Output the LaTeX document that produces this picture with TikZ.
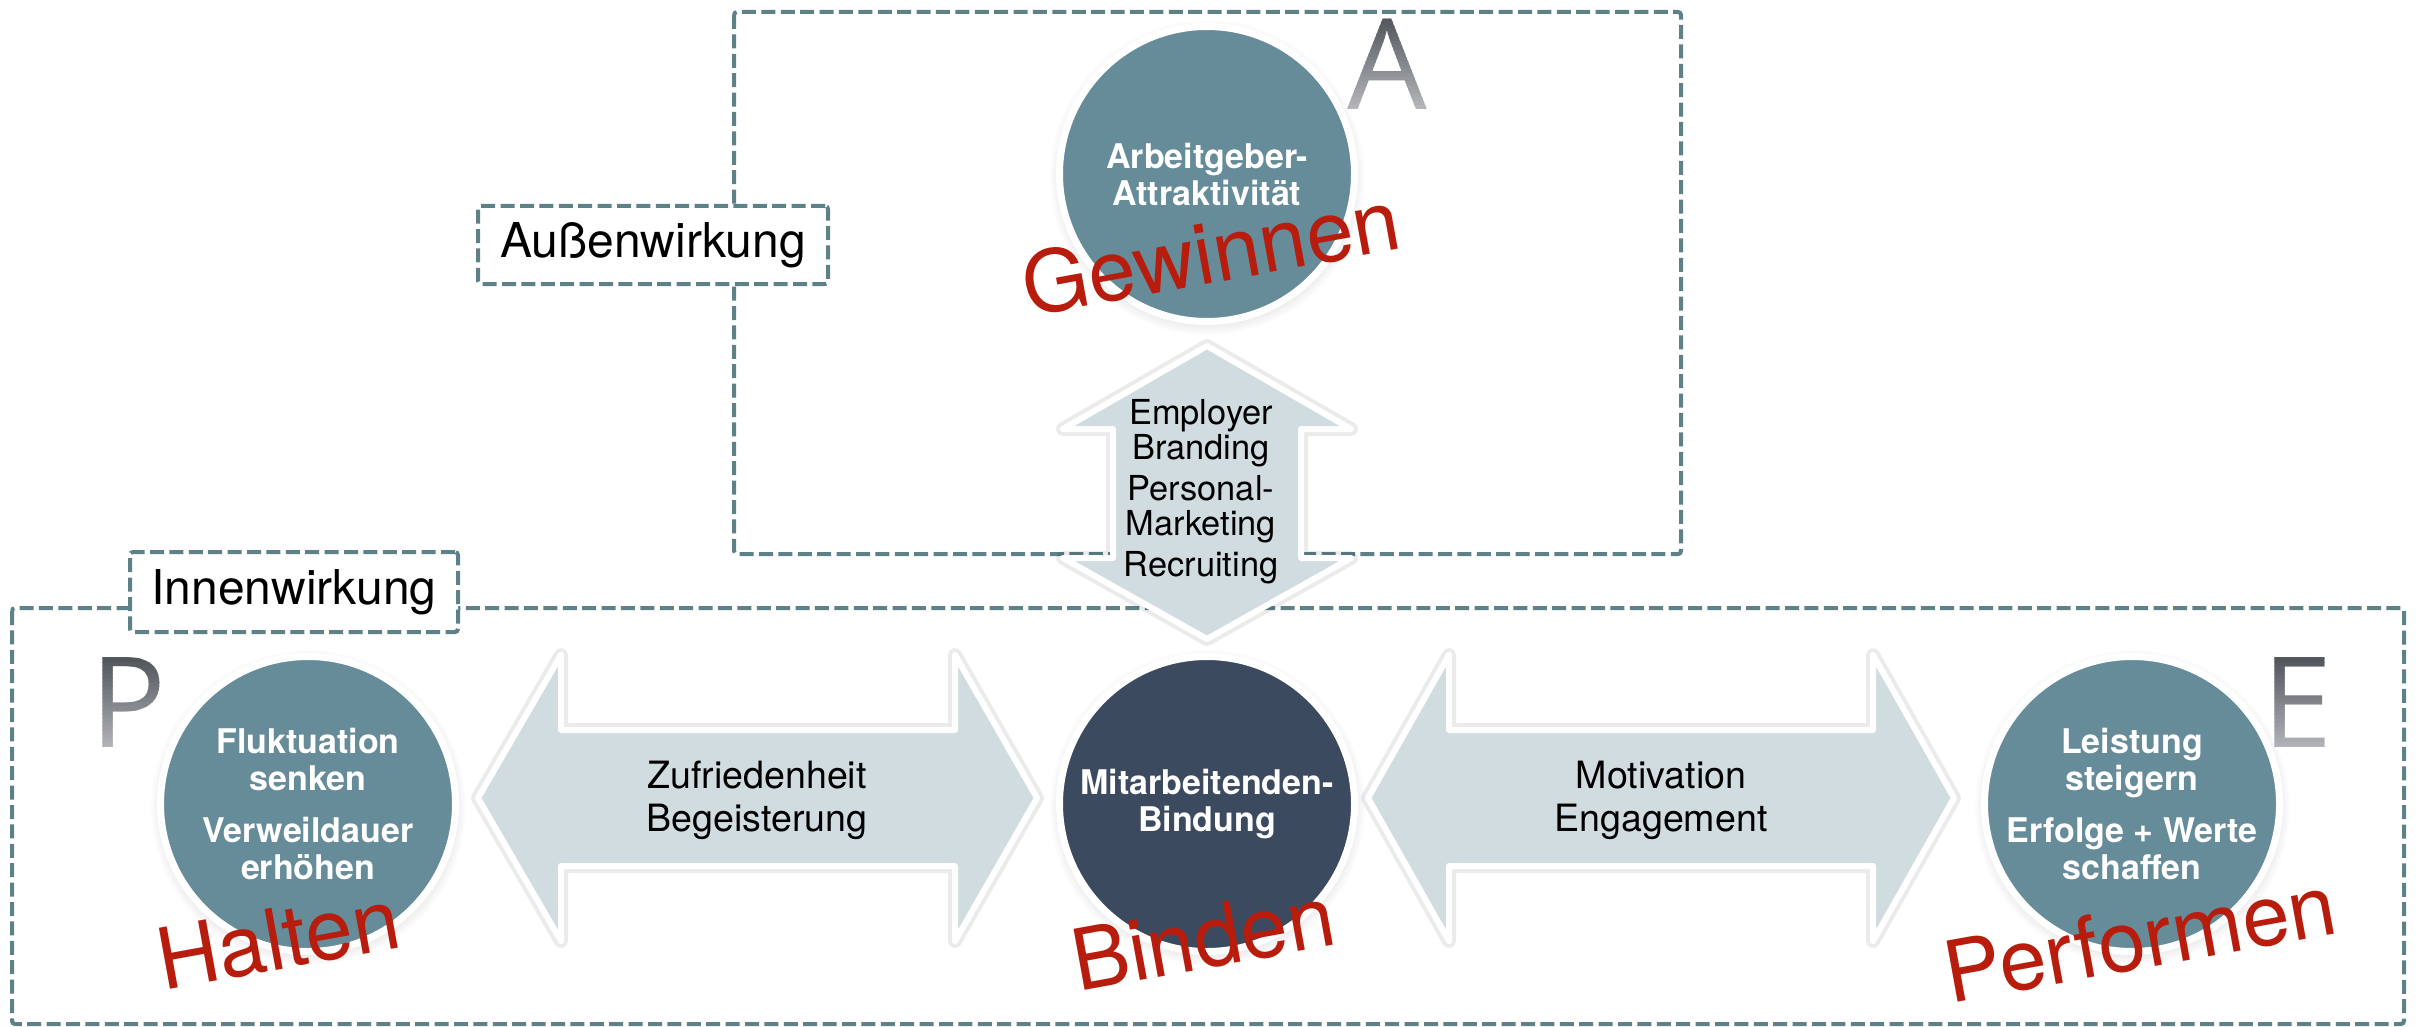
\documentclass[tikz,border=0pt]{standalone}
\usepackage{fontspec}
\setmainfont{TeX Gyre Heros}
\newfontfamily\letterfont{Open Sans}
\usetikzlibrary{shadows}
\definecolor{dashcol}{HTML}{5E8188}
\definecolor{circteal}{HTML}{668C99}
\definecolor{circdark}{HTML}{3B4A5E}
\definecolor{arrowfill}{HTML}{D0DCE0}
\definecolor{redword}{HTML}{B71C0C}
\definecolor{lettertop}{HTML}{4E5359}
\definecolor{letterbot}{HTML}{BCBDC1}
\tikzset{
  dashbox/.style={draw=dashcol, line width=2pt, dash pattern=on 7pt off 2.7pt, rounded corners=1.5pt},
  labelbox/.style={dashbox, fill=white, inner sep=0pt, font=\fontsize{24}{28}\selectfont, text=black},
  circ/.style={circle, draw=white, line width=3.5pt, minimum size=147.5pt, inner sep=0pt, text=white, align=center,
    font=\bfseries\fontsize{17}{18.5}\selectfont,
    circular drop shadow={shadow xshift=0pt, shadow yshift=-1.5pt, shadow scale=1.07, opacity=0.3}},
  arrowbody/.style={fill=arrowfill, draw=white, line width=3pt, line join=round},
  arrowhalo/.style={draw=black, opacity=0.08, line width=7pt, line join=round},
  arrowtext/.style={align=center, text=black, inner sep=0pt},
  redtext/.style={text=redword, font=\fontsize{42.5}{42.5}\selectfont, rotate=10.3, inner sep=0pt},
  bigletter/.style={font=\letterfont\fontsize{63}{63}\selectfont, inner sep=0pt},
}
\begin{document}
\begin{tikzpicture}[x=0.5pt, y=-0.5pt]
\useasboundingbox (0,0) rectangle (2418,1027);
\fill[white] (0,0) rectangle (2418,1027);

% dashed frames
\draw[dashbox] (734,12) rectangle (1681,554);
\draw[dashbox] (12,608) rectangle (2404,1024);
\node[labelbox, minimum width=175pt, minimum height=39pt] (aussen) at (653,245) {Außenwirkung};
\node[labelbox, minimum width=164pt, minimum height=40pt] (innen) at (294,592) {Innenwirkung};

% big gradient letters
\foreach \i in {0,...,24} {
  \pgfmathtruncatemacro\pct{100-4*\i}
  \begin{scope}
    \clip (1320,{14+4*\i}) rectangle (1460,{18.8+4*\i});
    \node[bigletter, text=lettertop!\pct!letterbot] (bigA\i) at (1387,64) {A};
  \end{scope}
  \begin{scope}
    \clip (60,{654+4*\i}) rectangle (200,{658.8+4*\i});
    \node[bigletter, text=lettertop!\pct!letterbot] (bigP\i) at (128,703) {P};
  \end{scope}
  \begin{scope}
    \clip (2230,{654+4*\i}) rectangle (2370,{658.8+4*\i});
    \node[bigletter, text=lettertop!\pct!letterbot] (bigE\i) at (2298,703) {E};
  \end{scope}
}

% vertical double arrow
\draw[arrowhalo] (1207,346) -- (1351,429) -- (1301,429) -- (1301,558) -- (1351,558) -- (1207,639)
  -- (1063,558) -- (1113,558) -- (1113,429) -- (1063,429) -- cycle;
\draw[arrowbody] (1207,346) -- (1351,429) -- (1301,429) -- (1301,558) -- (1351,558) -- (1207,639)
  -- (1063,558) -- (1113,558) -- (1113,429) -- (1063,429) -- cycle;

% left horizontal double arrow
\draw[arrowhalo] (478,798) -- (561,655) -- (561,730) -- (955,730) -- (955,655) -- (1037,798)
  -- (955,941) -- (955,866) -- (561,866) -- (561,941) -- cycle;
\draw[arrowbody] (478,798) -- (561,655) -- (561,730) -- (955,730) -- (955,655) -- (1037,798)
  -- (955,941) -- (955,866) -- (561,866) -- (561,941) -- cycle;

% right horizontal double arrow
\draw[arrowhalo] (1368,798) -- (1449,655) -- (1449,730) -- (1873,730) -- (1873,655) -- (1954,798)
  -- (1873,941) -- (1873,866) -- (1449,866) -- (1449,941) -- cycle;
\draw[arrowbody] (1368,798) -- (1449,655) -- (1449,730) -- (1873,730) -- (1873,655) -- (1954,798)
  -- (1873,941) -- (1873,866) -- (1449,866) -- (1449,941) -- cycle;

% arrow texts
\node[arrowtext, font=\fontsize{17.2}{17.5}\selectfont] (vtext) at (1201,492)
  {Employer\\Branding\\[3pt]Personal-\\Marketing\\[3pt]Recruiting};
\node[arrowtext, font=\fontsize{18.8}{21.5}\selectfont] (ltext) at (757,800) {Zufriedenheit\\Begeisterung};
\node[arrowtext, font=\fontsize{18.8}{21.5}\selectfont] (rtext) at (1661,800) {Motivation\\Engagement};

% circles
\node[circ, fill=circteal] (attr) at (1207,174) {Arbeitgeber-\\Attraktivität};
\node[circ, fill=circdark] (bind) at (1207,804) {Mitarbeitenden-\\Bindung};
\node[circ, fill=circteal] (flukt) at (308,804) {Fluktuation\\senken\\[7.5pt]Verweildauer\\erhöhen};
\node[circ, fill=circteal] (leist) at (2132,804) {Leistung\\steigern\\[7.5pt]Erfolge + Werte\\schaffen};

% red words
\node[redtext] (gewinnen) at (1211,252) {Gewinnen};
\node[redtext] (halten) at (278,939) {Halten};
\node[redtext] (binden) at (1203,938) {Binden};
\node[redtext] (performen) at (2140,938) {Performen};
\end{tikzpicture}
\end{document}
